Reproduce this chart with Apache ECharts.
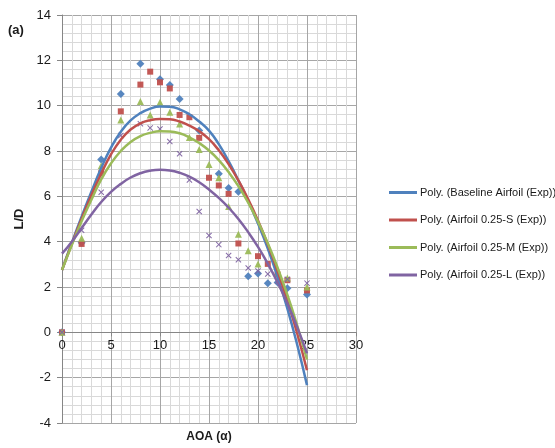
<!DOCTYPE html>
<html><head><meta charset="utf-8">
<script src="https://cdn.jsdelivr.net/npm/echarts@6/dist/echarts.min.js"></script>
<style>html,body{margin:0;padding:0;background:#fff}#c{width:555px;height:448px}</style>
</head><body><div id="c"></div>
<script>
// Experimental points (AOA in degrees, L/D); null = not visible in the picture
const aoa = [0,2,4,6,8,9,10,11,12,13,14,15,16,17,18,19,20,21,22,23,25];
const baselineExp = [0,3.95,7.62,10.51,11.85,null,11.17,10.91,10.29,null,8.9,null,7.0,6.37,6.2,2.47,2.6,2.17,2.2,1.95,1.67];
const sExp = [0,3.9,7.02,9.75,10.93,11.5,11.03,10.76,9.59,9.49,8.58,6.82,6.48,6.11,3.92,null,3.36,3.02,2.55,2.3,1.85];
const mExp = [0,4.15,7.35,9.37,10.18,9.59,10.15,9.71,9.19,8.6,8.07,7.4,6.82,5.55,4.33,3.6,3.01,null,2.6,2.4,2.0];
const lExp = [0,4.5,6.18,8.68,9.2,9.02,8.97,8.42,7.88,6.72,5.33,4.27,3.87,3.39,3.2,2.84,2.71,2.57,2.25,2.34,2.17];

// Polynomial trendlines
const fitAoa = [0,1,2,3,4,5,6,7,8,9,10,11,12,13,14,15,16,17,18,19,20,21,22,23,24,25];
const baselineFit = [2.75,3.95,5.1,6.2,7.25,8.15,8.85,9.35,9.67,9.87,9.96,9.95,9.84,9.62,9.3,8.9,8.3,7.55,6.7,5.8,4.8,3.7,2.45,1.05,-0.55,-2.33];
const sFit = [2.75,3.9,5.0,6.05,7.0,7.85,8.5,8.95,9.22,9.36,9.41,9.4,9.3,9.12,8.87,8.52,8.03,7.42,6.7,5.87,4.93,3.88,2.7,1.4,-0.05,-1.67];
const mFit = [2.75,3.85,4.9,5.85,6.75,7.45,8.0,8.4,8.66,8.8,8.87,8.86,8.78,8.6,8.35,8.02,7.6,7.07,6.45,5.72,4.88,3.93,2.85,1.65,0.3,-1.2];
const lFit = [3.47,4.0,4.6,5.2,5.75,6.2,6.55,6.83,7.02,7.13,7.17,7.14,7.04,6.87,6.62,6.3,5.93,5.5,5.0,4.42,3.77,3.03,2.2,1.27,0.23,-0.93];

const names = ['Poly. (Baseline Airfoil (Exp))','Poly. (Airfoil 0.25-S (Exp))','Poly. (Airfoil 0.25-M (Exp))','Poly. (Airfoil 0.25-L (Exp))'];
const colors = ['#4F81BD','#C0504D','#9BBB59','#8064A2'];

function pairs(xs, ys){ const out=[]; xs.forEach((x,i)=>{ if(ys[i]!==null) out.push([x, ys[i]]); }); return out; }

const xSym = 'path://M0,1.2 L1.2,0 L5,3.8 L8.8,0 L10,1.2 L6.2,5 L10,8.8 L8.8,10 L5,6.2 L1.2,10 L0,8.8 L3.8,5 Z';
const expSets = [
  {d: baselineExp, sym: 'diamond', size: 8},
  {d: sExp, sym: 'rect', size: 6},
  {d: mExp, sym: 'triangle', size: 7},
  {d: lExp, sym: xSym, size: 6}
];
const fits = [baselineFit, sFit, mFit, lFit];

const font = "'Liberation Sans',sans-serif";
const series = [];
expSets.forEach((s,i)=>{
  series.push({
    type:'scatter', name:'exp'+i, data: pairs(aoa, s.d), symbol: s.sym, symbolSize: s.size,
    itemStyle:{color: colors[i], opacity: 0.95}, z: 2+i, silent:true
  });
});
fits.forEach((f,i)=>{
  series.push({
    type:'line', name: names[i], data: pairs(fitAoa, f), smooth: true, showSymbol:false,
    lineStyle:{color: colors[i], width: 2.5}, itemStyle:{color: colors[i]}, z: 10+i, silent:true
  });
});

const gridH = 408, yMin = -4, yMax = 14;
const chart = echarts.init(document.getElementById('c'), null, {renderer:'canvas'});
chart.setOption({
  animation:false,
  backgroundColor:'#ffffff',
  grid:{left:62, top:15, width:294, height:gridH, containLabel:false},
  xAxis:{
    type:'value', min:0, max:30, interval:5, position:'bottom',
    offset: -gridH * (0 - yMin) / (yMax - yMin),
    axisLine:{onZero:false, lineStyle:{color:'#868686', width:1}},
    axisTick:{show:true, length:4, lineStyle:{color:'#868686'}},
    axisLabel:{color:'#1a1a1a', fontSize:13, fontFamily:font, margin:7},
    splitLine:{show:true, lineStyle:{color:'#a6a6a6', width:1}},
    minorTick:{show:false, splitNumber:5},
    minorSplitLine:{show:true, lineStyle:{color:'#d9d9d9', width:1}}
  },
  yAxis:{
    type:'value', min:yMin, max:yMax, interval:2,
    name:'L/D', nameLocation:'middle', nameGap:34, nameRotate:90,
    nameTextStyle:{fontWeight:'bold', fontSize:13, color:'#1a1a1a', fontFamily:font},
    axisLine:{show:true, onZero:false, lineStyle:{color:'#868686', width:1}},
    axisTick:{show:true, length:5, lineStyle:{color:'#868686'}},
    axisLabel:{color:'#1a1a1a', fontSize:13, fontFamily:font, margin:11},
    splitLine:{show:true, lineStyle:{color:'#a6a6a6', width:1}},
    minorTick:{show:false, splitNumber:5},
    minorSplitLine:{show:true, lineStyle:{color:'#d9d9d9', width:1}}
  },
  legend:{
    data: names, orient:'vertical', left:384, top:182, itemWidth:28, itemHeight:3, itemGap:16.5,
    icon:'rect', textStyle:{fontSize:11, color:'#1a1a1a', fontFamily:font, padding:[0,0,0,-2]}
  },
  graphic:[
    {type:'text', left:8, top:24, style:{text:'(a)', font:"bold 13px 'Liberation Sans', sans-serif", fill:'#1a1a1a'}},
    {type:'text', x:209, y:437, style:{text:'AOA (α)', font:"bold 12px 'Liberation Sans', sans-serif", fill:'#1a1a1a', align:'center', verticalAlign:'middle'}}
  ],
  series: series
});
</script></body></html>
